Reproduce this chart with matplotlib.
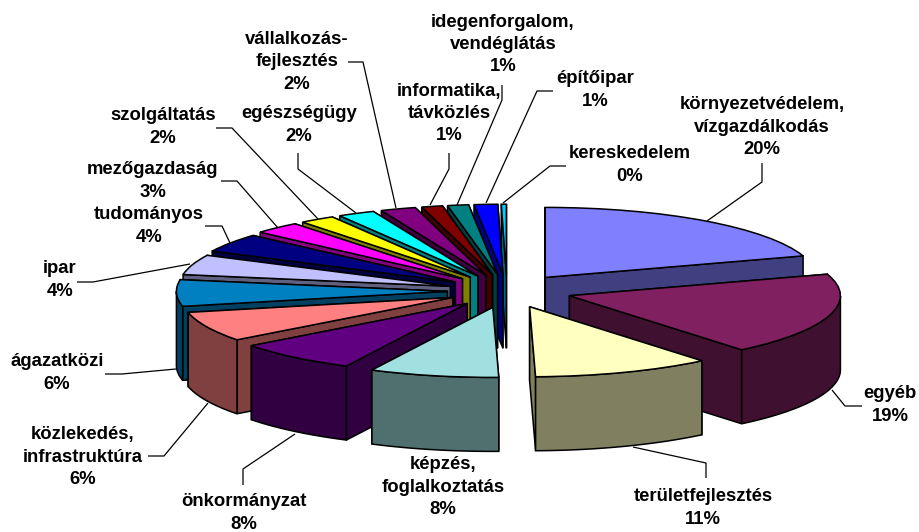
import numpy as np
import matplotlib
matplotlib.use("Agg")
import matplotlib.pyplot as plt
from matplotlib.colors import to_rgb
from matplotlib.patches import Polygon

labels = ["környezetvédelem,\nvízgazdálkodás\n20%", "egyéb\n19%", "területfejlesztés\n11%",
          "képzés,\nfoglalkoztatás\n8%", "önkormányzat\n8%", "közlekedés,\ninfrastruktúra\n6%",
          "ágazatközi\n6%", "ipar\n4%", "tudományos\n4%", "mezőgazdaság\n3%", "szolgáltatás\n2%",
          "egészségügy\n2%", "vállalkozás-\nfejlesztés\n2%", "informatika,\ntávközlés\n1%",
          "idegenforgalom,\nvendéglátás\n1%", "építőipar\n1%", "kereskedelem\n0%"]
shares = [20.0, 19.0, 10.6, 7.7, 7.3, 6.9, 6.1, 4.6, 4.3, 2.8, 2.1, 2.2, 2.1, 1.25, 1.25, 1.4, 0.3]
colors = ["#8080FF", "#802060", "#FFFFC0", "#A0E0E0", "#600080", "#FF8080", "#0080C0", "#C0C0FF",
          "#000080", "#FF00FF", "#FFFF00", "#00FFFF", "#800080", "#800000", "#008080", "#0000FF",
          "#00CCFF"]
explode = [0.24, 0.24, 0.24, 0.24, 0.23, 0.22, 0.22, 0.22, 0.23, 0.24,
           0.24, 0.24, 0.24, 0.24, 0.24, 0.24, 0.24]

W, H = 919, 532
CX, CY, RX, RY, DEPTH = 507, 291, 271, 70, 74

fig = plt.figure(figsize=(W / 100, H / 100), dpi=100)
ax = fig.add_axes([0, 0, 1, 1])
wedges, _ = ax.pie(shares, colors=colors, startangle=90, counterclock=False,
                   explode=explode,
                   wedgeprops=dict(edgecolor="black", linewidth=1.1))
ax.set_aspect("auto")
ax.set_xlim(-CX / RX, (W - CX) / RX)
ax.set_ylim((CY - H) / RY, CY / RY)
ax.axis("off")

d = DEPTH / RY
order = list(range(len(shares) - 1, 2, -1)) + [0, 1, 2]
for rank, i in enumerate(order):
    w = wedges[i]
    base = 10 * (rank + 1)
    w.set_zorder(base + 5)
    shade = tuple(c / 2 for c in to_rgb(colors[i]))
    cx, cy = w.center
    faces = []
    for a in (w.theta1, w.theta2):
        ex = cx + np.cos(np.radians(a))
        ey = cy + np.sin(np.radians(a))
        faces.append([(cx, cy), (ex, ey), (ex, ey - d), (cx, cy - d)])
    faces.sort(key=lambda f: -(f[0][1] + f[1][1]))
    for k, f in enumerate(faces):
        ax.add_patch(Polygon(f, closed=True, facecolor=shade, edgecolor="black",
                             linewidth=1.1, zorder=base + k))
    t = np.radians(np.linspace(w.theta1, w.theta2, 300))
    t = t[np.sin(t) <= 0]
    if t.size > 1:
        x = cx + np.cos(t)
        y = cy + np.sin(t)
        ax.add_patch(Polygon(np.r_[np.c_[x, y], np.c_[x, y - d][::-1]], closed=True,
                             facecolor=shade, edgecolor="black", linewidth=1.1,
                             zorder=base + 3))

# Overlay in pixel coordinates for callouts
ov = fig.add_axes([0, 0, 1, 1], facecolor="none")
ov.set_xlim(0, W)
ov.set_ylim(H, 0)
ov.axis("off")

label_pos = [(762, 127), (890, 405), (703, 508), (443, 487), (244, 513), (83, 457), (57, 373),
             (60, 280), (149, 226), (153, 181), (163, 127), (299, 125), (297, 62), (449, 113.5),
             (503, 44.5), (595, 90), (630, 165)]
leaders = [[(762, 163), (762, 182), (707, 221)],
           [(862, 406), (845, 406), (832, 390)],
           [(706, 478), (706, 463), (633, 447)],
           None,
           [(243, 485), (243, 469), (295, 434)],
           [(148, 456), (164, 456), (208, 403)],
           [(105, 374), (122, 374), (176, 369)],
           [(77, 282), (93, 282), (190, 264)],
           [(205, 226), (222, 226), (230, 243)],
           [(221, 181), (237, 181), (278, 228)],
           [(216, 128), (232, 128), (318, 219)],
           [(298, 153), (298, 169), (356, 213)],
           [(348, 62), (363, 62), (396, 208)],
           [(449, 153), (449, 169), (430, 205)],
           [(502, 85), (502, 100), (457, 205)],
           [(553, 91), (537, 91), (486, 203)],
           [(566, 166), (550, 166), (503, 203)]]

for lab, (x, y), pts in zip(labels, label_pos, leaders):
    if pts is not None:
        ov.plot(*zip(*pts), color="black", lw=0.9, solid_capstyle="butt", zorder=2)
    ov.text(x, y, lab, ha="center", va="center", fontsize=13.3, fontweight="bold",
            family="Liberation Sans", color="black", linespacing=1.42, zorder=3)

fig.savefig("out.png", dpi=100, facecolor="white")
